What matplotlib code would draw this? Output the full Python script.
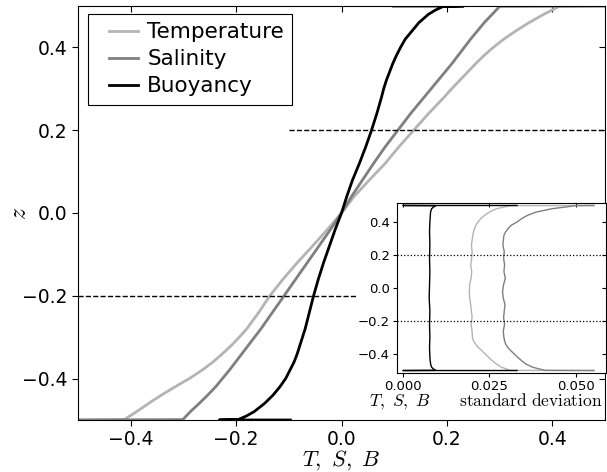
import matplotlib
matplotlib.use("Agg")
import matplotlib.pyplot as plt
import matplotlib.lines as mlines
from matplotlib.legend_handler import HandlerLine2D

plt.rcParams['mathtext.fontset'] = 'cm'
plt.rcParams['font.family'] = ['DejaVu Sans']

# ---------------- data: mean profiles ----------------
z = [-0.5, -0.499, -0.48, -0.46, -0.44, -0.42, -0.40, -0.38, -0.36, -0.34, -0.32, -0.30,
     -0.28, -0.24, -0.20, -0.16, -0.12, -0.08, -0.04, 0.0, 0.04, 0.08, 0.12, 0.16, 0.20,
     0.24, 0.28, 0.30, 0.32, 0.34, 0.36, 0.38, 0.40, 0.42, 0.44, 0.46, 0.48, 0.499, 0.5]

temperature = [-0.5, -0.412, -0.389, -0.366, -0.342, -0.316, -0.289, -0.265, -0.244, -0.226,
               -0.209, -0.194, -0.180, -0.157, -0.136, -0.111, -0.084, -0.055, -0.027, 0.0,
               0.024, 0.053, 0.083, 0.109, 0.137, 0.165, 0.195, 0.209, 0.224, 0.239, 0.254,
               0.270, 0.288, 0.308, 0.331, 0.356, 0.384, 0.413, 0.5]

salinity = [-0.5, -0.301, -0.287, -0.270, -0.254, -0.239, -0.226, -0.213, -0.201, -0.189,
            -0.177, -0.165, -0.153, -0.131, -0.109, -0.087, -0.065, -0.043, -0.021, 0.0,
            0.019, 0.040, 0.061, 0.083, 0.107, 0.131, 0.157, 0.170, 0.183, 0.196, 0.209,
            0.221, 0.233, 0.245, 0.258, 0.271, 0.286, 0.300, 0.5]

z_b = [-0.5, -0.5, -0.499, -0.49, -0.48, -0.46, -0.44, -0.42, -0.40, -0.38, -0.36, -0.34,
       -0.32, -0.30, -0.28, -0.24, -0.20, -0.16, -0.12, -0.08, -0.04, 0.0, 0.04, 0.08,
       0.12, 0.16, 0.20, 0.24, 0.28, 0.30, 0.32, 0.34, 0.36, 0.38, 0.40, 0.42, 0.44, 0.46,
       0.48, 0.49, 0.499, 0.5, 0.5]
buoyancy = [-0.097, -0.232, -0.196, -0.180, -0.166, -0.146, -0.130, -0.117, -0.106, -0.098,
            -0.090, -0.084, -0.079, -0.074, -0.069, -0.061, -0.053, -0.044, -0.034, -0.023,
            -0.012, 0.0, 0.010, 0.021, 0.034, 0.046, 0.057, 0.067, 0.076, 0.080, 0.085,
            0.091, 0.097, 0.104, 0.112, 0.121, 0.134, 0.147, 0.165, 0.178, 0.193, 0.232,
            0.098]

# ---------------- data: standard deviation profiles (inset) ----------------
z_sd = [-0.5, -0.499, -0.48, -0.46, -0.44, -0.42, -0.40, -0.38, -0.36, -0.34, -0.32, -0.30,
        -0.26, -0.22, -0.18, -0.14, -0.10, -0.06, -0.02, 0.02, 0.06, 0.10, 0.14, 0.18,
        0.22, 0.26, 0.30, 0.32, 0.34, 0.36, 0.38, 0.40, 0.42, 0.44, 0.46, 0.48, 0.499, 0.5]

temperature_sd = [0.0552, 0.031, 0.0285, 0.027, 0.0258, 0.0248, 0.0238, 0.0228, 0.0218,
                  0.0210, 0.0204, 0.0201, 0.0200, 0.0197, 0.0200, 0.0198, 0.0196, 0.0193,
                  0.0192, 0.0193, 0.0197, 0.0199, 0.0196, 0.0199, 0.0200, 0.0198, 0.0201,
                  0.0202, 0.0204, 0.0207, 0.0211, 0.0217, 0.0225, 0.0236, 0.0250, 0.0270,
                  0.031, 0.0552]

salinity_sd = [0.0552, 0.041, 0.0375, 0.0355, 0.0343, 0.0332, 0.0322, 0.0312, 0.0303,
               0.0297, 0.0294, 0.0292, 0.0290, 0.0294, 0.0291, 0.0293, 0.0295, 0.0290,
               0.0288, 0.0291, 0.0296, 0.0292, 0.0294, 0.0291, 0.0293, 0.0289, 0.0291,
               0.0292, 0.0297, 0.0304, 0.0313, 0.0330, 0.0343, 0.0360, 0.0385, 0.0430,
               0.050, 0.0552]

z_bsd = [-0.5, -0.5, -0.499, -0.49, -0.48, -0.46, -0.42, -0.36, -0.30, -0.22, -0.14, -0.06,
         0.02, 0.10, 0.18, 0.26, 0.34, 0.40, 0.46, 0.48, 0.49, 0.499, 0.5, 0.5]
buoyancy_sd = [0.033, 0.0, 0.0095, 0.0088, 0.0083, 0.0080, 0.0078, 0.0077, 0.0078, 0.0077,
               0.0078, 0.0076, 0.0077, 0.0078, 0.0077, 0.0078, 0.0077, 0.0078, 0.0080,
               0.0083, 0.0088, 0.0095, 0.0, 0.033]

ticks_main = [-0.4, -0.2, 0.0, 0.2, 0.4]
ticks_inset_x = [0.0, 0.025, 0.05]

c_T, c_S, c_B = '#b4b4b4', '#7f7f7f', 'black'


class ShortLine(HandlerLine2D):
    """Legend line drawn on the right part of the handle box."""
    def get_xdata(self, legend, xdescent, ydescent, width, height, fontsize):
        x0 = -xdescent + 0.30 * width
        x1 = -xdescent + width
        return [x0, x1], [x0, x1]


def mixed_ticks(ax):
    # bottom/left ticks point out, top/right ticks point in
    ax.tick_params(which='major', direction='out', top=True, right=True)
    ax.minorticks_off()
    for t in ax.xaxis.get_major_ticks():
        t.tick2line.set_marker(mlines.TICKDOWN)
    for t in ax.yaxis.get_major_ticks():
        t.tick2line.set_marker(mlines.TICKLEFT)


fig = plt.figure(figsize=(6.07, 4.72), dpi=100)
ax = fig.add_axes([78 / 607, 52 / 472, 527 / 607, 414 / 472])

ax.plot(temperature, z, color=c_T, lw=2.0, label='Temperature')
ax.plot(salinity, z, color=c_S, lw=2.0, label='Salinity')
ax.plot(buoyancy, z_b, color=c_B, lw=2.0, label='Buoyancy')
ax.hlines(0.2, -0.1, 0.5, colors='black', linestyles='--', lw=1.0)
ax.hlines(-0.2, -0.5, 0.03, colors='black', linestyles='--', lw=1.0)

ax.set_xlim(-0.5, 0.5)
ax.set_ylim(-0.5, 0.5)
ax.set_xticks(ticks_main)
ax.set_yticks(ticks_main)
ax.tick_params(labelsize=13.5, length=4, width=0.8)
ax.set_xlabel(r'$T,\ S,\ B$', fontsize=16)
ax.xaxis.set_label_coords(0.5, -0.067)
ax.set_ylabel(r'$z$', fontsize=17)
ax.yaxis.set_label_coords(-0.09, 0.5)
leg = ax.legend(loc='upper left', bbox_to_anchor=(88 / 607, 1 - 14 / 472),
                bbox_transform=fig.transFigure, borderaxespad=0,
                fontsize=15.5, fancybox=False, framealpha=1, edgecolor='black',
                handlelength=1.93, handletextpad=0.44, borderpad=0.38,
                labelspacing=0.33, handler_map={mlines.Line2D: ShortLine()})
leg.get_frame().set_linewidth(0.8)
for s in ax.spines.values():
    s.set_linewidth(0.8)
mixed_ticks(ax)

# ---------------- inset ----------------
axi = fig.add_axes([397 / 607, 99 / 472, 209 / 607, 170 / 472])
axi.plot(temperature_sd, z_sd, color=c_T, lw=1.0)
axi.plot(salinity_sd, z_sd, color=c_S, lw=1.0)
axi.plot(buoyancy_sd, z_bsd, color=c_B, lw=1.0)
axi.axhline(0.2, color='black', ls=':', lw=0.9)
axi.axhline(-0.2, color='black', ls=':', lw=0.9)
axi.set_xlim(-0.0017, 0.0587)
axi.set_ylim(-0.515, 0.515)
axi.set_xticks(ticks_inset_x)
axi.set_yticks(ticks_main)
axi.tick_params(labelsize=9.5, length=3, width=0.8, pad=2)
axi.set_xlabel(r'$T,\ S,\ B\qquad\mathrm{standard\ deviation}$', fontsize=12.5)
axi.xaxis.set_label_coords(0.426, -0.11)
for s in axi.spines.values():
    s.set_linewidth(0.8)
mixed_ticks(axi)

fig.savefig('out.png', dpi=100)
